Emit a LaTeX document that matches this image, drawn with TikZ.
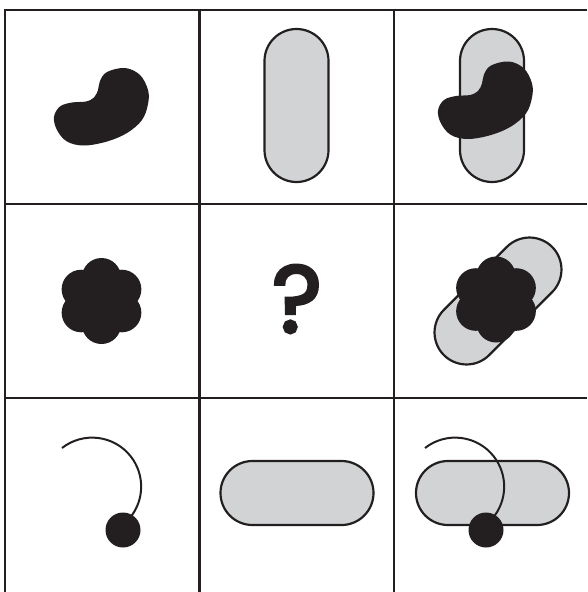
\documentclass[tikz,border=0pt]{standalone}
\usepackage{fontspec}
\usepackage{xcolor}
\usepackage{tikz}
\usetikzlibrary{shapes.misc,calc}
\newfontfamily\qfont{Poppins}[FakeBold=3.5]
\definecolor{ink}{HTML}{231F20}
\definecolor{pillgray}{HTML}{D1D3D4}

\begin{document}
\begin{tikzpicture}[
  x=1pt,y=-1pt,
  gridline/.style={draw=ink,line width=2.2pt},
  pill/.style={rounded rectangle,draw=ink,fill=pillgray,line width=2.2pt,minimum width=153pt,minimum height=64pt,inner sep=0pt},
  blob/.style={fill=ink},
  hook/.style={draw=ink,line width=2pt},
  ball/.style={circle,fill=ink,minimum size=35pt,inner sep=0pt},
  qmark/.style={inner sep=0pt,text=ink,font=\qfont\fontsize{95}{95}\selectfont}
]
\useasboundingbox (0,0) rectangle (587,592);
\draw[gridline] (587,10) -| (5,592);
\draw[gridline] (5,204) -- (587,204);
\draw[gridline] (5,398) -- (587,398);
\draw[gridline] (199.5,10) -- (199.5,592);
\draw[gridline] (394,10) -- (394,592);

\node[pill,rotate=90] (pillA) at (296.5,105.5) {};
\node[pill,rotate=90] (pillB) at (492,105.5) {};
\node[pill,rotate=45] (pillC) at (498,301) {};
\node[pill] (pillD) at (297,493) {};
\node[pill] (pillE) at (492.5,493) {};

\foreach \dx/\dy in {0/0,384/-6.5}
  \fill[blob,shift={(\dx,\dy)}] plot[smooth cycle,tension=0.6] coordinates {
    (54,117) (60,106.5) (72,102.5) (86,101.5) (94,97.5) (98,90) (100,81)
    (107,72) (125,68) (140,75) (148,90) (148,104) (142,120) (127,133)
    (107,141.5) (84,145.5) (67,141.5) (57,130)};

\foreach \cx/\cy [count=\i] in {101.5/301,496/299.5}{
  \coordinate (flower\i) at (\cx,\cy);
  \fill[blob] (flower\i) circle[radius=25];
  \foreach \a in {30,90,...,330}
    \fill[blob] ($(flower\i)+(\a:23.4)$) circle[radius=19.6];
}

\foreach \dx [count=\i] in {0,363}{
  \coordinate (hookend\i) at (62+\dx,448);
  \draw[hook] (hookend\i) arc[start angle=232,end angle=400,radius=49];
  \node[ball] (ball\i) at (123+\dx,530) {};
}

\node[qmark] (quest) at (297,299) {?};
\end{tikzpicture}
\end{document}
